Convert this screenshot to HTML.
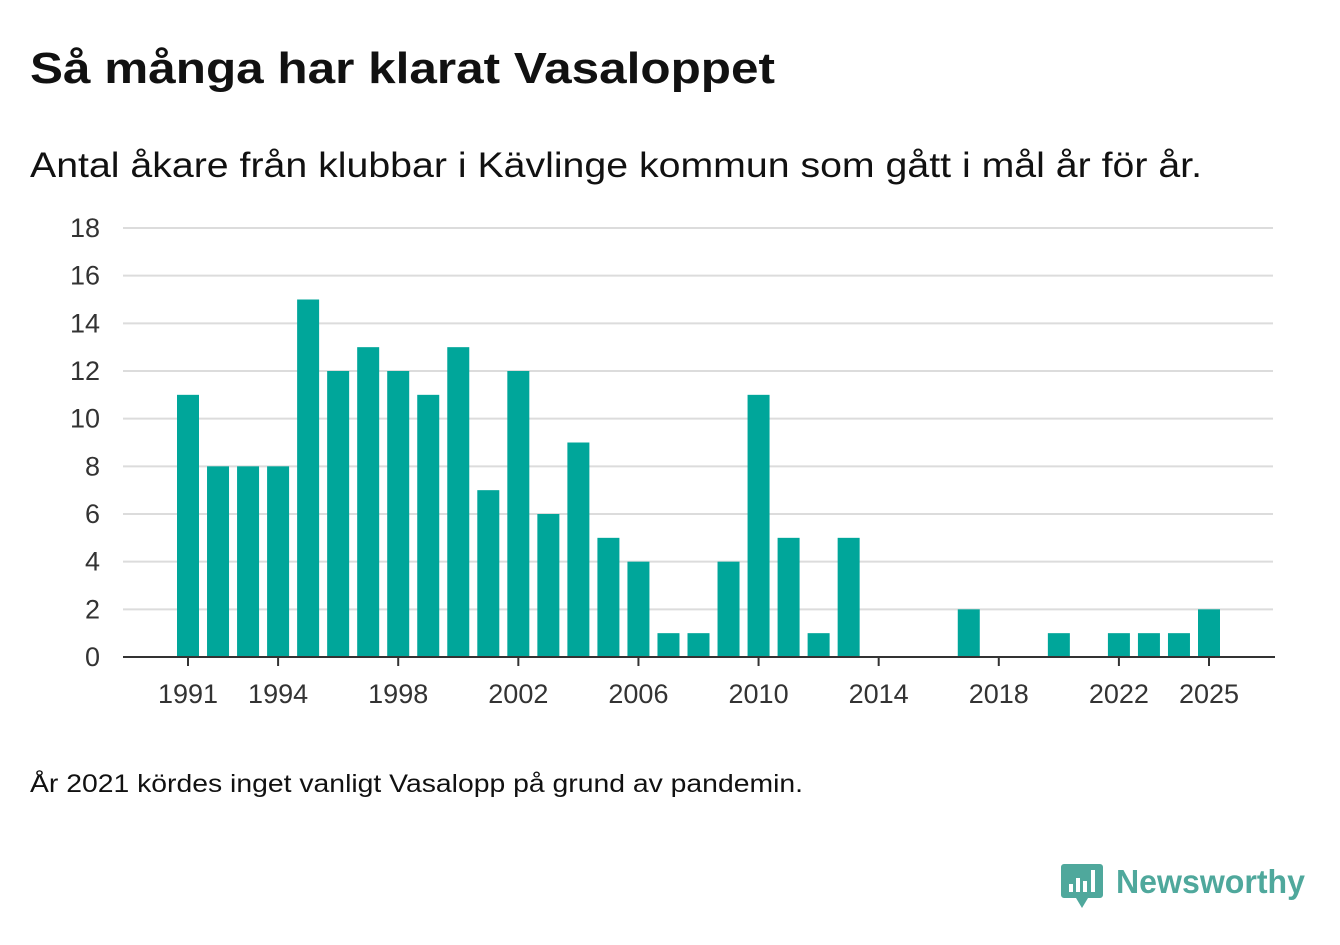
<!DOCTYPE html>
<html><head><meta charset="utf-8">
<style>
body{margin:0;background:#fff;width:1340px;height:940px;overflow:hidden;font-family:"Liberation Sans",sans-serif;color:#111}
svg text{font-family:"Liberation Sans",sans-serif}
</style></head>
<body>
<svg width="1340" height="940">
<text x="30" y="83" font-size="44" font-weight="bold" fill="#111" textLength="745" lengthAdjust="spacingAndGlyphs">Så många har klarat Vasaloppet</text>
<text x="30" y="177" font-size="35" fill="#111" textLength="1172" lengthAdjust="spacingAndGlyphs">Antal åkare från klubbar i Kävlinge kommun som gått i mål år för år.</text>
<g id="grid"></g>
<g id="bars"></g>
<g id="xaxis"></g>
<text x="30" y="792" font-size="25" fill="#111" textLength="773" lengthAdjust="spacingAndGlyphs">År 2021 kördes inget vanligt Vasalopp på grund av pandemin.</text>
<g>
<path d="M1064 864 h36 a3 3 0 0 1 3 3 v28 a3 3 0 0 1 -3 3 h-12 l-6 10 l-6 -10 h-12 a3 3 0 0 1 -3 -3 v-28 a3 3 0 0 1 3 -3z" fill="#4fa89c"/>
<rect x="1069" y="884" width="4" height="8" fill="#fff"/><rect x="1076" y="878" width="4" height="14" fill="#fff"/><rect x="1083" y="881" width="4" height="11" fill="#fff"/><rect x="1091" y="870" width="4" height="22" fill="#fff"/>
<text x="1116" y="893" font-size="33" font-weight="bold" fill="#4fa89c" textLength="189" lengthAdjust="spacingAndGlyphs">Newsworthy</text>
</g>
</svg>
<script>
const years=[1991,1992,1993,1994,1995,1996,1997,1998,1999,2000,2001,2002,2003,2004,2005,2006,2007,2008,2009,2010,2011,2012,2013,2014,2015,2016,2017,2018,2019,2020,2021,2022,2023,2024,2025];
const values=[11,8,8,8,15,12,13,12,11,13,7,12,6,9,5,4,1,1,4,11,5,1,5,0,0,0,2,0,0,1,0,1,1,1,2];
const yTicks=[0,2,4,6,8,10,12,14,16,18];
const xTicks=[1991,1994,1998,2002,2006,2010,2014,2018,2022,2025];
const NS="http://www.w3.org/2000/svg";
const x=y=>188+(y-1991)*(1209-188)/34;
const yS=v=>657-v*(657-228)/18;
function mk(t,a,p){const e=document.createElementNS(NS,t);for(const k in a)e.setAttribute(k,a[k]);p.appendChild(e);return e;}
const grid=document.getElementById('grid'),bars=document.getElementById('bars'),xa=document.getElementById('xaxis');
yTicks.forEach(v=>{
 if(v>0){const l=mk('line',{x1:123,x2:1273,y1:yS(v),y2:yS(v),stroke:'#dcdcdc','stroke-width':2},grid);
 
 }
 const t=mk('text',{x:100,y:yS(v)+9,'font-size':27,'text-anchor':'end',fill:'#333'},grid);t.textContent=v;
 
 
});
years.forEach((yr,i)=>{
 if(values[i]<=0)return;
 const r=mk('rect',{x:x(yr)-11,y:yS(values[i]),width:22,height:yS(0)-yS(values[i]),fill:'#00a69a'},bars);
 
 
});
const ax=mk('line',{x1:123,x2:1275,y1:657,y2:657,stroke:'#333','stroke-width':2},xa);


xTicks.forEach(yr=>{
 mk('line',{x1:x(yr),x2:x(yr),y1:657,y2:666,stroke:'#333','stroke-width':2},xa);
 const t=mk('text',{x:x(yr),y:703,'font-size':27,'text-anchor':'middle',fill:'#333'},xa);t.textContent=yr;
 
 
});
</script>
</body></html>
